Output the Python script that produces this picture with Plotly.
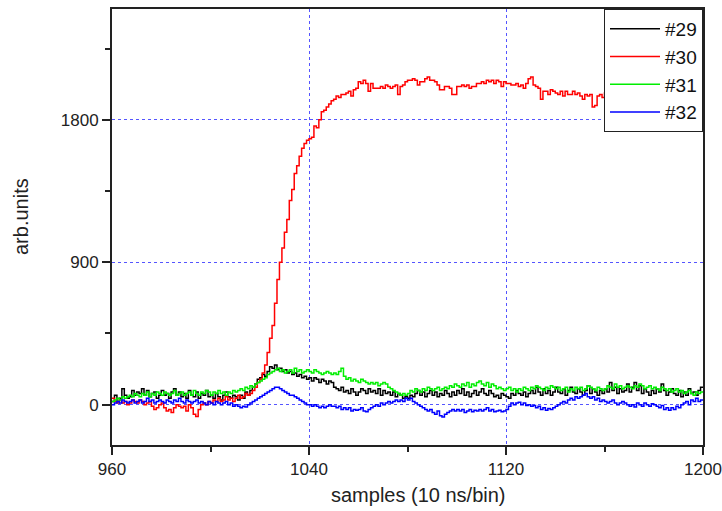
import plotly.graph_objects as go

# bin starts 960..1199 (1 sample per bin)
x_start = 960
x_end = 1200

s29 = [20, 60, 20, 40, 100, 60, 40, 50, 90, 60,
       80, 70, 100, 60, 90, 50, 70, 80, 40, 60,
       90, 60, 70, 40, 80, 100, 60, 80, 50, 70,
       40, 90, 60, 50, 80, 40, 70, 60, 90, 50,
       60, 40, 70, 50, 30, 60, 80, 50, 40, 60,
       50, 30, 60, 40, 80, 60, 90, 110, 130, 160,
       170, 190, 180, 210, 240, 230, 250, 220, 230, 210,
       220, 200, 210, 190, 200, 180, 190, 170, 180, 160,
       170, 150, 170, 160, 140, 160, 150, 130, 150, 140,
       110, 100, 90, 110, 80, 90, 70, 100, 80, 60,
       80, 100, 90, 70, 100, 80, 90, 70, 100, 60,
       90, 70, 80, 60, 80, 50, 70, 60, 40, 50,
       40, 60, 50, 70, 90, 60, 80, 50, 70, 90,
       60, 80, 50, 70, 60, 90, 70, 50, 80, 60,
       90, 70, 100, 60, 80, 50, 70, 90, 60, 80,
       100, 70, 60, 90, 70, 50, 60, 40, 70, 60,
       50, 40, 70, 60, 90, 70, 60, 80, 50, 70,
       90, 70, 110, 80, 60, 100, 70, 90, 60, 80,
       110, 80, 70, 100, 60, 90, 110, 80, 70, 100,
       80, 60, 90, 120, 70, 100, 80, 60, 90, 70,
       100, 80, 140, 90, 110, 70, 100, 80, 90, 130,
       80, 110, 140, 90, 120, 70, 100, 80, 60, 90,
       70, 100, 80, 130, 90, 60, 80, 100, 70, 60,
       90, 50, 80, 60, 100, 70, 80, 60, 90, 110]

s30 = [40, 20, 10, 30, 10, 20, 0, 10, 30, 20,
       10, 30, 20, 0, 10, 20, -10, -30, -20, 0,
       10, -20, -40, -30, -50, -20, 0, -10, -20, -10,
       -40, 0, -20, -60, -75, -30, 0, 10, 0, 20,
       10, 30, 20, 40, 20, 30, 50, 30, 40, 20,
       40, 60, 40, 50, 70, 60, 70, 90, 110, 140,
       160, 200, 250, 330, 420, 500, 640, 790, 900, 990,
       1090, 1170, 1290, 1360, 1460, 1510, 1570, 1620, 1650, 1670,
       1680, 1690, 1760, 1750, 1800, 1850, 1860, 1880, 1900, 1920,
       1930, 1950, 1940, 1960, 1960, 1970, 1980, 1950, 1990, 2000,
       2040, 2030, 2050, 2030, 1980, 2030, 2000, 2000, 2000, 2010,
       2000, 2020, 2010, 2000, 2010, 2020, 1960, 2010, 2020, 2040,
       2050, 2050, 2060, 2050, 2020, 2040, 2040, 2060, 2070, 2050,
       2050, 2040, 2020, 1990, 1990, 2010, 2010, 2000, 1960, 1960,
       2010, 2010, 2020, 2010, 2020, 2000, 2010, 2010, 2030, 2030,
       2040, 2030, 2050, 2040, 2050, 2030, 2050, 2040, 2010, 2040,
       2030, 2030, 2020, 2020, 2030, 2010, 2020, 2000, 2030, 2060,
       2070, 2020, 2010, 2000, 1930, 1980, 1980, 1960, 1990, 1980,
       1970, 1960, 1980, 1950, 1980, 1960, 1960, 1980, 1960, 1970,
       1950, 1930, 1960, 1950, 1960, 1880, 1890, 1950, 1960, 1940,
       1970, 1950, 1960, 1940, 1950, 1970, 1960, 1940, 1950, 1960,
       1950, 1970, 1940, 1950, 1960, 1950, 1940, 1960, 1950, 1970,
       1950, 1940, 1960, 1950, 1960, 1940, 1950, 1970, 1950, 1960,
       1940, 1950, 1960, 1950, 1940, 1960, 1950, 1970, 1950, 1960]

s31 = [20, 30, 40, 30, 50, 40, 50, 60, 50, 70,
       60, 50, 70, 60, 80, 50, 70, 60, 80, 70,
       60, 80, 70, 60, 70, 90, 60, 70, 80, 60,
       70, 80, 60, 90, 70, 60, 80, 70, 90, 80,
       60, 80, 70, 90, 70, 80, 60, 80, 70, 90,
       80, 90, 100, 90, 110, 100, 120, 110, 130, 140,
       150, 160, 170, 190, 200, 210, 220, 230, 210, 220,
       200, 210, 220, 200, 230, 210, 220, 200, 210, 220,
       210, 200, 220, 210, 200, 190, 200, 210, 200, 190,
       200, 190, 210, 230, 180, 160, 170, 150, 160, 150,
       140, 160, 150, 140, 130, 140, 130, 140, 120, 130,
       140, 130, 110, 100, 90, 80, 70, 60, 70, 60,
       70, 90, 80, 100, 90, 80, 100, 90, 110, 100,
       90, 100, 110, 90, 100, 110, 100, 120, 110, 130,
       120, 110, 130, 120, 140, 110, 130, 120, 140, 150,
       130, 120, 140, 110, 130, 120, 100, 110, 100, 90,
       100, 110, 90, 100, 80, 100, 90, 110, 100, 90,
       110, 100, 120, 110, 100, 90, 110, 100, 120, 110,
       100, 110, 90, 100, 110, 80, 100, 90, 110, 100,
       110, 90, 100, 120, 110, 100, 90, 110, 100, 90,
       100, 120, 110, 100, 130, 110, 120, 100, 110, 120,
       110, 100, 120, 110, 130, 120, 100, 110, 120, 100,
       110, 100, 90, 110, 100, 90, 100, 80, 90, 100,
       80, 90, 70, 80, 90, 70, 60, 80, 70, 80]

s32 = [0, 10, 20, 10, 30, 20, 10, 20, 30, 10,
       20, 30, 10, 20, 40, 20, 30, 10, 20, 30,
       20, 10, 30, 20, 10, 30, 20, 40, 20, 10,
       30, 20, 10, 20, 30, 10, 20, 10, 0, 20,
       10, 0, 20, 10, 0, 10, 20, 0, 10, -10,
       0, -10, -20, -10, -15, 0, 10, 20, 30, 40,
       50, 60, 70, 80, 90, 100, 110, 110, 100, 90,
       80, 70, 60, 60, 50, 40, 30, 20, 10, 0,
       0, -10, 0, -10, -20, -10, -20, -10, 0, -10,
       -10, -20, -10, -30, -20, -30, -20, -40, -30, -35,
       -30, -20, -40, -45, -30, -20, -10, 0, -10, 10,
       0, 10, 20, 10, 20, 30, 20, 30, 20, 40,
       30, 40, 20, 10, 0, -10, -20, -30, -40, -30,
       -50, -60, -40, -70, -78, -60, -50, -40, -30, -40,
       -30, -40, -30, -50, -40, -30, -45, -35, -40, -30,
       -40, -30, -20, -40, -30, -45, -40, -35, -45, -40,
       -30, -10, 10, 0, 10, 15, 0, 10, -5, 0,
       -10, -5, -20, -10, -30, -20, -35, -25, -30, -20,
       -10, 0, 10, 20, 10, 30, 40, 30, 50, 40,
       50, 60, 70, 50, 40, 50, 30, 40, 20, 30,
       20, 10, 20, 30, 10, 0, 10, 20, 10, 0,
       -10, 0, -15, 10, 0, -10, 10, 0, -10, 5,
       0, -10, -20, -5, -30, -20, -35, -20, -30, -10,
       -20, 0, 10, 20, 0, 30, 20, 40, 20, 30]

names = ["#29", "#30", "#31", "#32"]
colors = ["#000000", "#ff0000", "#00ee00", "#0000ff"]
series = [s29, s30, s31, s32]

x_tick_vals = [960, 1040, 1120, 1200]
y_tick_vals = [0, 900, 1800]

edges = list(range(x_start, x_end + 1))

fig = go.Figure()
for name, col, vals in zip(names, colors, series):
    fig.add_trace(go.Scatter(
        x=edges, y=vals + [vals[-1]], name=name, mode="lines",
        line=dict(color=col, width=1.5, shape="hv"),
    ))

font_family = "Arial, Liberation Sans, sans-serif"
grid_col = "#5555ff"

fig.update_layout(
    width=722, height=511,
    margin=dict(l=112, r=19, t=9, b=66),
    paper_bgcolor="white", plot_bgcolor="white",
    font=dict(family=font_family, color="#222222"),
    showlegend=True,
    legend=dict(x=1, y=1, xanchor="right", yanchor="top",
                bgcolor="white", bordercolor="#222222", borderwidth=1,
                font=dict(size=19, color="#111111"),
                tracegroupgap=0, itemwidth=50),
    xaxis=dict(range=[960, 1200], tickmode="array", tickvals=x_tick_vals,
               automargin=False,
               ticks="outside", ticklen=8, tickwidth=1.5, tickcolor="#222222",
               showline=True, linecolor="#222222", linewidth=2, mirror=True,
               showgrid=True, gridcolor=grid_col, griddash="dot", gridwidth=1,
               zeroline=False, tickfont=dict(size=17),
               minor=dict(tickmode="linear", tick0=960, dtick=40, ticks="outside",
                          ticklen=5, tickwidth=1.5, tickcolor="#222222", showgrid=False)),
    yaxis=dict(range=[-255, 2500], tickmode="array", tickvals=y_tick_vals,
               automargin=False,
               ticks="outside", ticklen=8, tickwidth=1.5, tickcolor="#222222",
               showline=True, linecolor="#222222", linewidth=2, mirror=True,
               showgrid=True, gridcolor=grid_col, griddash="dot", gridwidth=1,
               zeroline=False, tickfont=dict(size=17),
               minor=dict(tickmode="linear", tick0=0, dtick=450, ticks="outside",
                          ticklen=5, tickwidth=1.5, tickcolor="#222222", showgrid=False)),
    annotations=[
        dict(text="samples (10 ns/bin)", xref="paper", yref="paper",
             x=(418 - 112) / 591, y=-(495 - 445) / 436, xanchor="center", yanchor="middle",
             showarrow=False, font=dict(size=20, color="#222222")),
        dict(text="arb.units", xref="paper", yref="paper",
             x=-(112 - 21) / 591, y=(445 - 217) / 436, xanchor="center", yanchor="middle",
             textangle=-90, showarrow=False, font=dict(size=20, color="#222222")),
    ],
)

fig.write_html("out.html",
               config={"displayModeBar": False},
               post_script="document.body.style.margin='0';document.body.style.overflow='hidden';")
